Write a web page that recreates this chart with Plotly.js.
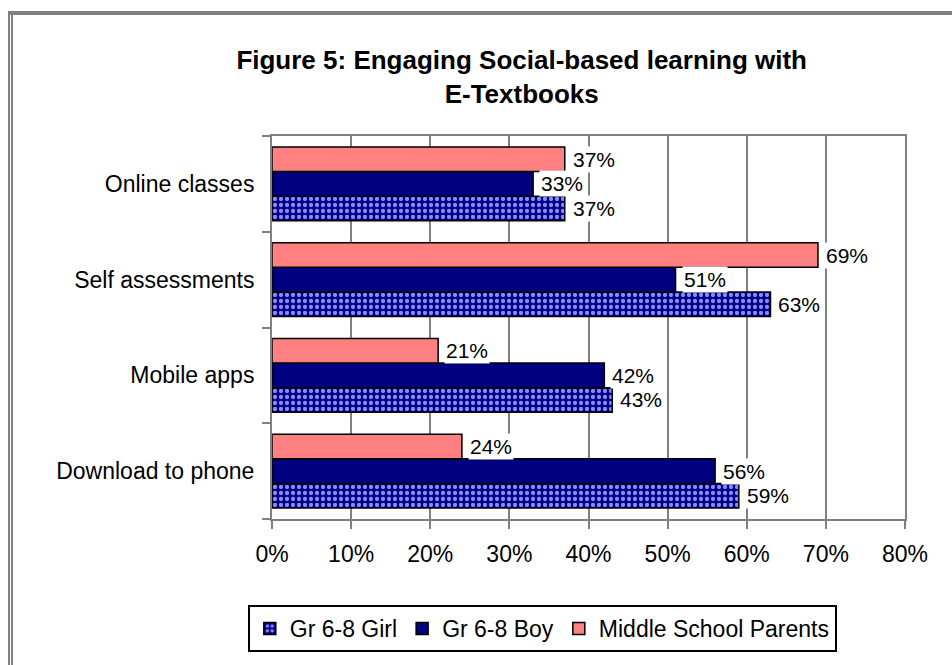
<!DOCTYPE html>
<html>
<head>
<meta charset="utf-8">
<script src="https://cdn.plot.ly/plotly-3.0.1.min.js"></script>
<style>
  html, body { margin: 0; padding: 0; background: #ffffff; }
  #chart { position: absolute; left: 0; top: 0; width: 952px; height: 665px; }
  .frame { position: absolute; background: #808080; pointer-events: none; z-index: 10; }
</style>
</head>
<body>
<div id="chart"></div>
<div class="frame" style="left:8px; top:11px; width:944px; height:4px;"></div>
<div class="frame" style="left:8px; top:11px; width:2px; height:654px;"></div>
<div class="frame" style="left:11px; top:11px; width:2px; height:654px;"></div>
<script>
// Categories listed bottom-to-top (Plotly draws the first category at the bottom)
const categories = ["Download to phone", "Mobile apps", "Self assessments", "Online classes"];
const seriesNames = ["Gr 6-8 Girl", "Gr 6-8 Boy", "Middle School Parents"];
const girlValues    = [59, 43, 63, 37];
const boyValues     = [56, 42, 51, 33];
const parentsValues = [24, 21, 69, 37];
const xTickVals = [0, 10, 20, 30, 40, 50, 60, 70, 80];
const xTickText = ["0%", "10%", "20%", "30%", "40%", "50%", "60%", "70%", "80%"];

const allValues = [girlValues, boyValues, parentsValues];
const FONT = "Liberation Sans, Arial, sans-serif";
const barGap = 0.23;
const barW = (1 - barGap) / 3;
const offsets = [-barW, 0, barW];

const lineStyle = { color: "#000000", width: 1.5 };
const traces = [
  {
    type: "bar", orientation: "h", name: seriesNames[0],
    y: categories, x: girlValues,
    marker: {
      color: "#000080",
      line: lineStyle,
      pattern: { shape: ".", bgcolor: "#000080", fgcolor: "#8888ff", size: 6, solidity: 0.4, fillmode: "replace" }
    },
    hoverinfo: "skip"
  },
  {
    type: "bar", orientation: "h", name: seriesNames[1],
    y: categories, x: boyValues,
    marker: { color: "#000080", line: lineStyle },
    hoverinfo: "skip"
  },
  {
    type: "bar", orientation: "h", name: seriesNames[2],
    y: categories, x: parentsValues,
    marker: { color: "#ff8080", line: lineStyle },
    hoverinfo: "skip"
  }
];

const annotations = [];
allValues.forEach((vals, s) => {
  vals.forEach((v, i) => {
    annotations.push({
      x: v, y: i + offsets[s], xref: "x", yref: "y",
      text: v + "%", showarrow: false, xanchor: "left", yanchor: "middle",
      xshift: 6, bgcolor: "#ffffff", borderpad: 1,
      font: { family: FONT, size: 21, color: "#000000" }
    });
  });
});

const layout = {
  width: 952, height: 665,
  paper_bgcolor: "#ffffff", plot_bgcolor: "#ffffff",
  margin: { l: 272, r: 47, t: 136, b: 146 },
  barmode: "group", bargap: barGap, bargroupgap: 0,
  title: {
    text: "<b>Figure 5: Engaging Social-based learning with<br>E-Textbooks</b>",
    font: { family: FONT, size: 26, color: "#000000" },
    x: 0.548, xref: "container", xanchor: "center",
    y: 0.896, yref: "container", yanchor: "bottom"
  },
  font: { family: FONT, size: 23, color: "#000000" },
  xaxis: {
    range: [0, 80], tickvals: xTickVals, ticktext: xTickText,
    showgrid: true, gridcolor: "#808080", gridwidth: 2,
    showline: true, linecolor: "#808080", linewidth: 2, mirror: true,
    ticks: "outside", ticklen: 8, tickcolor: "#808080", tickwidth: 2,
    tickfont: { family: FONT, size: 23, color: "#000000" },
    ticklabelstandoff: 5,
    zeroline: false, fixedrange: true
  },
  yaxis: {
    type: "category", categoryorder: "array", categoryarray: categories,
    range: [-0.5, 3.5],
    showgrid: false, tickson: "boundaries",
    showline: true, linecolor: "#808080", linewidth: 2, mirror: true,
    ticks: "outside", ticklen: 8, tickcolor: "#808080", tickwidth: 2,
    tickfont: { family: FONT, size: 23, color: "#000000" },
    ticklabelstandoff: 11,
    zeroline: false, fixedrange: true
  },
  legend: {
    orientation: "h", x: 0.427, xanchor: "center", y: -0.2245, yanchor: "top",
    bordercolor: "#000000", borderwidth: 2, bgcolor: "#ffffff",
    font: { family: FONT, size: 23, color: "#000000" },
    traceorder: "normal", itemwidth: 30
  },
  annotations: annotations,
  showlegend: true
};

Plotly.newPlot("chart", traces, layout, { staticPlot: true, displayModeBar: false });
</script>
</body>
</html>
